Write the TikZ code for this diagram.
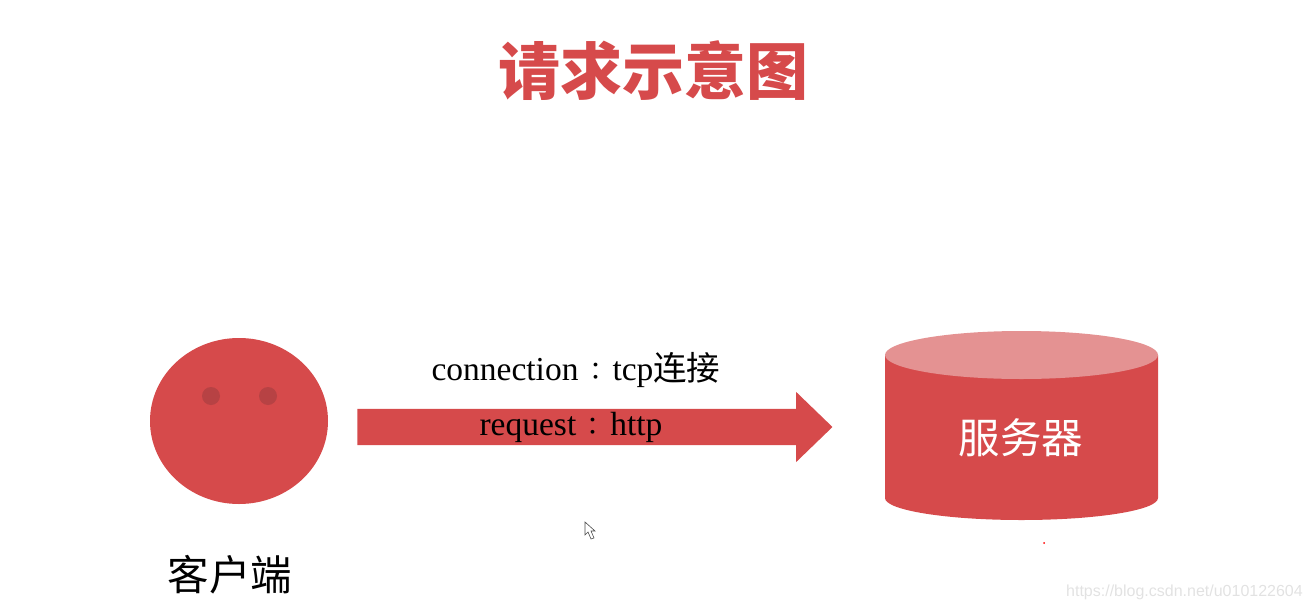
\documentclass[tikz,border=0pt]{standalone}
\usepackage{fontspec}
\setmainfont{Liberation Serif}
\newfontfamily\cjk{Noto Sans CJK SC}
\newfontfamily\cjktc{Noto Sans CJK TC}
\definecolor{slideRed}{RGB}{214, 74, 75}
\definecolor{slideLight}{RGB}{228, 146, 146}
\definecolor{slideEye}{RGB}{183, 66, 68}
\definecolor{markGray}{RGB}{226, 226, 226}
\usetikzlibrary{shapes.geometric, shapes.arrows, positioning}
\newcommand{\fullcolon}{\makebox[34pt]{\cjktc\fontsize{25}{25}\selectfont ：}}

\begin{document}
\begin{tikzpicture}[x=1pt, y=-1pt,
  title/.style={font=\cjk\bfseries\fontsize{62}{70}\selectfont, text=slideRed, inner sep=0pt},
  caption/.style={font=\cjk\fontsize{41.5}{48}\selectfont, inner sep=0pt},
  proto/.style={font=\fontsize{33.5}{40}\selectfont, inner sep=0pt, anchor=base},
  face/.style={ellipse, fill=slideRed, minimum width=178pt, minimum height=166pt, inner sep=0pt},
  eyedot/.style={circle, fill=slideEye, minimum size=18pt, inner sep=0pt},
  flow/.style={single arrow, fill=slideRed, minimum height=475pt, inner xsep=0pt, inner ysep=18pt,
               single arrow head extend=17pt, single arrow tip angle=88},
  lid/.style={ellipse, fill=slideLight, minimum width=273pt, minimum height=48pt, inner sep=0pt},
]
  \useasboundingbox (0,0) rectangle (1311,610);

  \node[title] (head) at (653,71) {请求示意图};

  % client with its eyes
  \node[face] (client) at (239,421) {};
  \node[eyedot] (eyeL) at (211,396) {};
  \node[eyedot] (eyeR) at (268,396) {};
  \node[caption] (clientText) at (230,575) {客户端};

  % arrow and the two protocol lines
  \node[flow, right=29pt of client, yshift=-6pt] (flow) {};
  \node[proto] (conn) at (576,380) {connection\fullcolon tcp{\cjk 连接}};
  \node[proto] (req) at (571,435) {request\fullcolon http};

  % server
  \fill[slideRed] (885,355) -- (885,498) arc[start angle=180, end angle=0, x radius=136.5, y radius=22]
    -- (1158,355) -- cycle;
  \node[lid] (lid) at (1021.5,355) {};
  \node[caption, text=white] (serverText) at (1021,438) {服务器};

  % what the screen capture left behind
  \fill[white, draw=black!70, line width=0.6pt] (585,522) -- (585,535) -- (588,532) -- (591,539)
    -- (594,538) -- (591,531) -- (595,531) -- cycle;
  \node[circle, fill=red, minimum size=2pt, inner sep=0pt] (speck) at (1044,543) {};
  \node[font=\fontspec{Liberation Sans}\fontsize{16}{20}\selectfont, text=markGray, anchor=east, inner sep=0pt]
    (mark) at (1303,592) {https://blog.csdn.net/u010122604};
\end{tikzpicture}
\end{document}
